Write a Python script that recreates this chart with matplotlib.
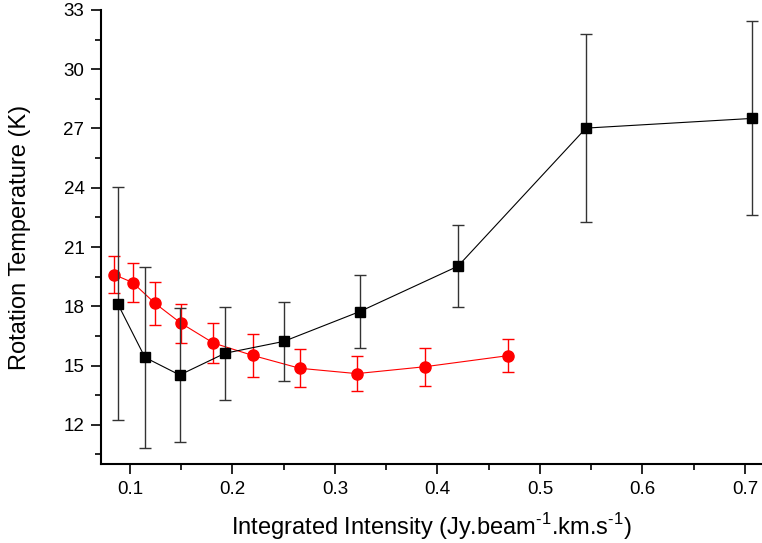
import numpy as np
import matplotlib.pyplot as plt
from matplotlib.ticker import MultipleLocator

plt.rcParams['font.family'] = ['Liberation Sans', 'DejaVu Sans']
plt.rcParams['mathtext.fontset'] = 'custom'
plt.rcParams['mathtext.rm'] = 'Liberation Sans'

# black squares
x_blk = [0.088, 0.1146, 0.1485, 0.1927, 0.25, 0.3241, 0.42, 0.5449, 0.7068]
y_blk = [18.13, 15.41, 14.52, 15.62, 16.22, 17.73, 20.03, 27.02, 27.51]
e_blk = [5.9, 4.58, 3.37, 2.35, 2.0, 1.83, 2.08, 4.75, 4.91]

# red circles
x_red = [0.0847, 0.1026, 0.1244, 0.1498, 0.1813, 0.2197, 0.2656, 0.3212, 0.388, 0.469]
y_red = [19.6, 19.2, 18.15, 17.14, 16.14, 15.51, 14.86, 14.59, 14.94, 15.5]
e_red = [0.93, 1.0, 1.1, 0.99, 1.03, 1.07, 0.96, 0.9, 0.97, 0.82]

fig = plt.figure(figsize=(7.62, 5.43), dpi=100)
ax = fig.add_axes([0.1332, 0.145, 0.8668, 0.8366])

ax.errorbar(x_blk, y_blk, yerr=e_blk, color='black', ecolor='#333333',
            marker='s', markersize=7.5, linewidth=0.8, elinewidth=1.0,
            capsize=4, capthick=1.0, zorder=3)
ax.errorbar(x_red, y_red, yerr=e_red, color='red', ecolor='red',
            marker='o', markersize=8, linewidth=0.8, elinewidth=1.0,
            capsize=4, capthick=1.0, zorder=2)

ax.set_xlim(0.0722, 0.7166)
ax.set_ylim(10, 33)
ax.xaxis.set_major_locator(MultipleLocator(0.1))
ax.xaxis.set_minor_locator(MultipleLocator(0.05))
ax.yaxis.set_minor_locator(MultipleLocator(1.5))
ax.set_yticks([12, 15, 18, 21, 24, 27, 30, 33])

for s in ['top', 'right']:
    ax.spines[s].set_visible(False)
for s in ['left', 'bottom']:
    ax.spines[s].set_linewidth(1.5)

ax.tick_params(which='major', direction='out', length=7.3, width=1.2,
               labelsize=13.5, pad=5)
ax.tick_params(which='minor', direction='out', length=4, width=1.2)

sup = '$^{\\mathregular{\u20101}}$'
ax.set_xlabel('Integrated Intensity (Jy.beam' + sup + '.km.s' + sup + ')',
              fontsize=17, labelpad=9)
ax.set_ylabel('Rotation Temperature (K)', fontsize=17, labelpad=23)

fig.savefig('out.png', dpi=100)
